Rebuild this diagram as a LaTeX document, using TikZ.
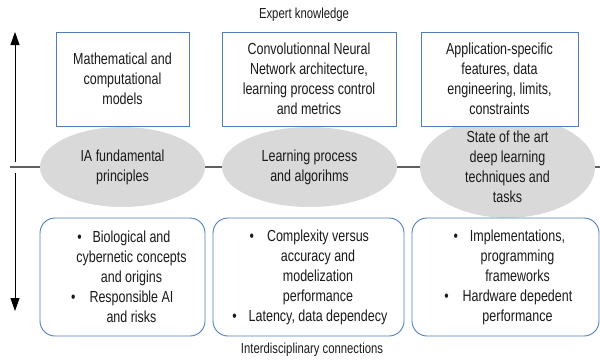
\documentclass[tikz,border=0pt]{standalone}
\usepackage{fontspec}
\setmainfont{Liberation Sans}[FakeStretch=0.78]
\usetikzlibrary{shapes.geometric,arrows.meta}
\definecolor{bl}{HTML}{4F7EBB}
\definecolor{gr}{HTML}{D9D9D9}
\definecolor{tx}{HTML}{1A1A1A}
\begin{document}
\begin{tikzpicture}[x=1pt,y=-1pt,
  txt/.style={text=tx,align=center,inner sep=0pt,font=\fontsize{16}{20}\selectfont},
  topbox/.style={draw=bl,line width=0.9pt,fill=white,minimum height=94pt,inner sep=0pt,text=tx,align=center,font=\fontsize{16}{20}\selectfont},
  botbox/.style={draw=bl,line width=0.9pt,fill=white,rounded corners=15pt,minimum height=118pt,inner sep=0pt},
  oval/.style={ellipse,fill=gr,draw=none,minimum height=80pt,inner sep=0pt,text=tx,align=center,font=\fontsize{16}{20}\selectfont},
  axis/.style={draw=black,line width=0.9pt,-{Triangle[length=13pt,width=9pt]}},
  lbl/.style={text=tx,inner sep=0pt,font=\fontsize{14.5}{17}\selectfont}
]
\useasboundingbox (0,0) rectangle (600,360);
% horizontal line
\coordinate (hl0) at (10,167);
\coordinate (hl1) at (600,167);
\draw[draw=gray!75!black,line width=1.3pt] (hl0) -- (hl1);
% vertical arrows
\coordinate (u0) at (15,162);
\coordinate (u1) at (15,32);
\coordinate (d0) at (15,173);
\coordinate (d1) at (15,311);
\draw[axis] (u0) -- (u1);
\draw[axis] (d0) -- (d1);
% ellipses
\node[oval,minimum width=165pt] (e1) at (122.5,167) {IA fundamental\\principles};
\node[oval,minimum width=175pt] (e2) at (309.5,167) {Learning process\\and algorihms};
\node[oval,minimum width=175pt] (e3) at (507.5,167) {State of the art\\deep learning\\techniques and\\tasks};
% top boxes
\node[topbox,minimum width=133pt] (t1) at (122.5,79) {Mathematical and\\computational\\models};
\node[topbox,minimum width=174pt] (t2) at (309,79) {Convolutionnal Neural\\Network architecture,\\learning process control\\and metrics};
\node[topbox,minimum width=157pt] (t3) at (499.5,79) {Application-specific\\features, data\\engineering, limits,\\constraints};
% bottom boxes
\node[botbox,minimum width=165pt] (b1) at (122.5,277) {};
\node[botbox,minimum width=191pt] (b2) at (308.5,277) {};
\node[botbox,minimum width=187pt] (b3) at (505.5,277) {};
\node[txt] (bt1) at (131.5,277) {\llap{\textbullet\hspace{11pt}}Biological and\\cybernetic concepts\\and origins\\\llap{\textbullet\hspace{14pt}}Responsible AI\\and risks};
\node[txt] (bt2) at (318,277) {\llap{\textbullet\hspace{13pt}}Complexity versus\\accuracy and\\modelization\\performance\\\llap{\textbullet\hspace{12pt}}Latency, data dependecy};
\node[txt] (bt3) at (517.5,277) {\llap{\textbullet\hspace{12pt}}Implementations,\\programming\\frameworks\\\llap{\textbullet\hspace{14pt}}Hardware depedent\\performance};
% labels
\node[lbl] (top) at (304,15) {Expert knowledge};
\node[lbl] (bot) at (312,350) {Interdisciplinary connections};
\end{tikzpicture}
\end{document}
